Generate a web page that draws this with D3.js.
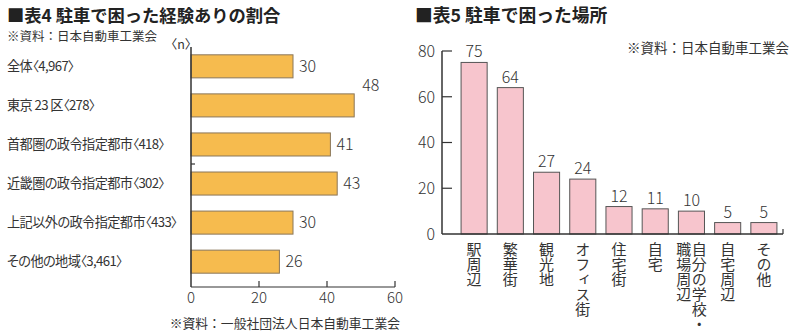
<!DOCTYPE html>
<html><head><meta charset="utf-8">
<script src="https://cdn.jsdelivr.net/npm/d3@7"></script>
<style>
body{margin:0;background:#fff}
svg{font-family:"Noto Sans CJK JP","Noto Sans",sans-serif;}
text{fill:#333}
</style></head><body>
<svg id="c" width="800" height="335"></svg>
<script>
// ---- data: 表4
const title1 = "■表4 駐車で困った経験ありの割合";
const source1Top = "※資料：日本自動車工業会";
const source1Bottom = "※資料：一般社団法人日本自動車工業会";
const unit1 = "〈n〉";
const regions = ["全体〈4,967〉","東京 23 区〈278〉","首都圏の政令指定都市〈418〉","近畿圏の政令指定都市〈302〉","上記以外の政令指定都市〈433〉","その他の地域〈3,461〉"];
const regionValues = [30,48,41,43,30,26];
const xTicks1 = [0,20,40,60];
// ---- data: 表5
const title2 = "■表5 駐車で困った場所";
const source2 = "※資料：日本自動車工業会";
const places = ["駅周辺","繁華街","観光地","オフィス街","住宅街","自宅","自分の学校・|職場周辺","自宅周辺","その他"];
const placeValues = [75,64,27,24,12,11,10,5,5];
const yTicks2 = [0,20,40,60,80];

const svg = d3.select("#c");
const ink = "#333";

// ================= Chart 1 =================
const g1 = svg.append("g");
g1.append("text").attr("x",7).attr("y",22).attr("font-size",17.3).attr("font-weight","bold")
  .style("fill","#222").text(title1);
g1.append("text").attr("x",7).attr("y",41).attr("font-size",12.5).text(source1Top);
g1.append("text").attr("x",181).attr("y",49).attr("font-size",12.5).attr("text-anchor","middle").text(unit1);

const x1 = d3.scaleLinear().domain([0,60]).range([191,395]);
const y1 = d3.scaleBand().domain(regions).range([47,281]).paddingInner(0.41).paddingOuter(0.2);
const axisBottom1 = 287;

g1.selectAll("rect.b").data(regions).join("rect").attr("class","b")
  .attr("x",x1(0)).attr("y",d=>y1(d))
  .attr("width",(d,i)=>x1(regionValues[i])-x1(0)).attr("height",y1.bandwidth())
  .attr("fill","#f6bb4e").attr("stroke","#8a7659").attr("stroke-width",1);

g1.selectAll("text.cat").data(regions).join("text").attr("class","cat")
  .attr("x",7).attr("y",d=>y1(d)+y1.bandwidth()/2).attr("dy","0.36em")
  .attr("font-size",13.2).attr("letter-spacing",-0.6)
  .style("font-feature-settings","'palt'").text(d=>d);

const maxV = d3.max(regionValues);
g1.selectAll("text.val").data(regions).join("text").attr("class","val")
  .attr("x",(d,i)=>x1(regionValues[i])+ (regionValues[i]===maxV?8:6))
  .attr("y",(d,i)=>y1(d)+y1.bandwidth()/2 + (regionValues[i]===maxV?-20:0)).attr("dy","0.36em")
  .attr("font-size",16).attr("font-weight",300).text((d,i)=>regionValues[i]);

// axes
g1.append("line").attr("x1",x1(0)).attr("x2",x1(0)).attr("y1",47).attr("y2",axisBottom1)
  .attr("stroke",ink).attr("stroke-width",1.5);
g1.append("line").attr("x1",x1(0)).attr("x2",x1(60)).attr("y1",axisBottom1).attr("y2",axisBottom1)
  .attr("stroke",ink).attr("stroke-width",1.2);
g1.selectAll("line.t").data(xTicks1.slice(1)).join("line").attr("class","t")
  .attr("x1",d=>x1(d)).attr("x2",d=>x1(d)).attr("y1",axisBottom1-6).attr("y2",axisBottom1)
  .attr("stroke",ink).attr("stroke-width",1.2);
// small stub on the axis between bands
const stubY = (y1(regions[2])+y1.bandwidth()+y1(regions[3]))/2;
g1.append("line").attr("x1",x1(0)).attr("x2",x1(0)+4).attr("y1",stubY).attr("y2",stubY)
  .attr("stroke",ink).attr("stroke-width",1.2);
g1.selectAll("text.tl").data(xTicks1).join("text").attr("class","tl")
  .attr("x",d=>x1(d)).attr("y",303).attr("text-anchor","middle")
  .attr("font-size",15).attr("font-weight",300).text(d=>d);
g1.append("text").attr("x",400).attr("y",328).attr("text-anchor","end")
  .attr("font-size",12.8).text(source1Bottom);

// ================= Chart 2 =================
const g2 = svg.append("g");
g2.append("text").attr("x",415).attr("y",22).attr("font-size",17.8).attr("font-weight","bold")
  .style("fill","#222").text(title2);
g2.append("text").attr("x",789).attr("y",53).attr("text-anchor","end")
  .attr("font-size",13.5).text(source2);

const y2 = d3.scaleLinear().domain([0,80]).range([234,51]);
const x2 = d3.scaleBand().domain(places).range([456,782]).paddingInner(0.28).paddingOuter(0.14);
const axisX2 = 442;

g2.selectAll("rect.b").data(places).join("rect").attr("class","b")
  .attr("x",d=>x2(d)).attr("y",(d,i)=>y2(placeValues[i]))
  .attr("width",x2.bandwidth()).attr("height",(d,i)=>y2(0)-y2(placeValues[i]))
  .attr("fill","#f7c5cd").attr("stroke","#555").attr("stroke-width",1);

g2.selectAll("text.val").data(places).join("text").attr("class","val")
  .attr("x",d=>x2(d)+x2.bandwidth()/2).attr("y",(d,i)=>y2(placeValues[i])-5)
  .attr("text-anchor","middle").attr("font-size",16).attr("font-weight",300)
  .text((d,i)=>placeValues[i]);

// y axis
g2.append("line").attr("x1",axisX2).attr("x2",axisX2).attr("y1",y2(80)).attr("y2",y2(0))
  .attr("stroke",ink).attr("stroke-width",1.5);
g2.selectAll("line.t").data(yTicks2.slice(1)).join("line").attr("class","t")
  .attr("x1",axisX2).attr("x2",axisX2+10).attr("y1",d=>y2(d)).attr("y2",d=>y2(d))
  .attr("stroke",ink).attr("stroke-width",1.2);
g2.selectAll("text.tl").data(yTicks2).join("text").attr("class","tl")
  .attr("x",axisX2-7).attr("y",d=>y2(d)).attr("dy","0.36em").attr("text-anchor","end")
  .attr("font-size",16).attr("font-weight",300).text(d=>d);
// x axis
g2.append("line").attr("x1",axisX2).attr("x2",783).attr("y1",y2(0)).attr("y2",y2(0))
  .attr("stroke",ink).attr("stroke-width",1.5);
g2.append("line").attr("x1",783).attr("x2",783).attr("y1",y2(0)).attr("y2",y2(0)-5)
  .attr("stroke",ink).attr("stroke-width",1.2);

// vertical category labels
places.forEach((p,i)=>{
  const cols = p.split("|");
  const cx = x2(p)+x2.bandwidth()/2;
  cols.forEach((c,j)=>{
    g2.append("text")
      .attr("x",cx + ((cols.length-1)/2 - j)*15.5)
      .attr("y",242)
      .style("writing-mode","vertical-rl")
      .attr("font-size",15)
      .text(c);
  });
});
</script>
</body></html>
